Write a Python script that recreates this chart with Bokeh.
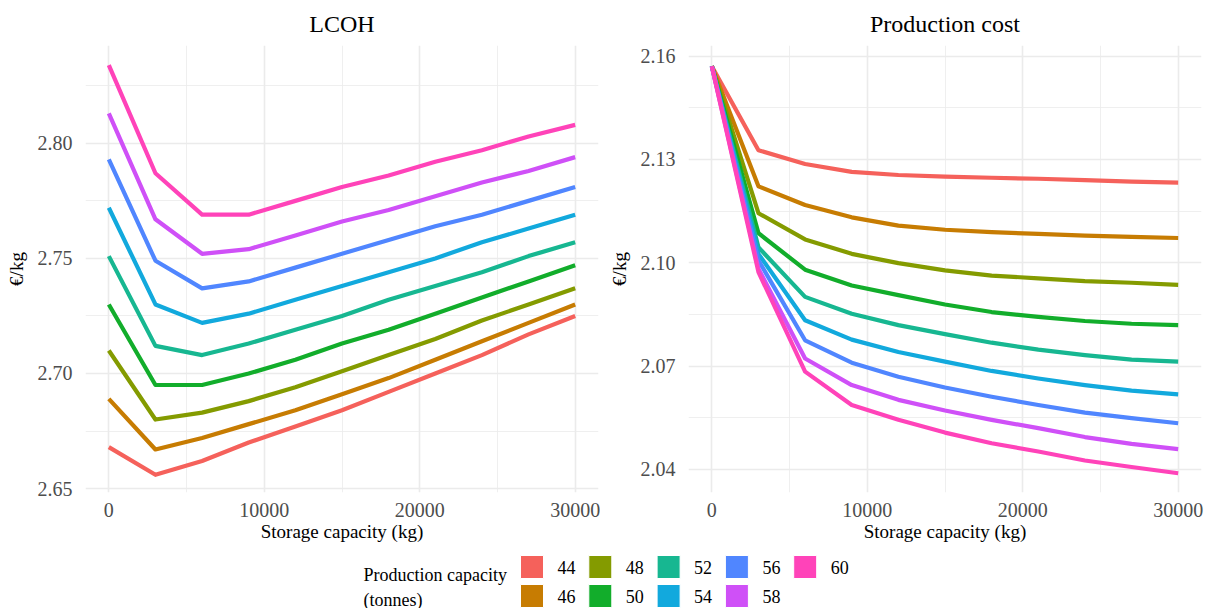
from bokeh.plotting import figure
from bokeh.models import Range1d, FixedTicker, PrintfTickFormatter, ColumnDataSource
from bokeh.layouts import column, row
from bokeh.embed import file_html
from bokeh.resources import INLINE
from bokeh.core.properties import value

# ---------------- data ----------------
storage_kg = [0, 3000, 6000, 9000, 12000, 15000, 18000, 21000, 24000, 27000, 30000]
capacities = ["44", "46", "48", "50", "52", "54", "56", "58", "60"]
colors = ["#F5615B", "#C77C02", "#849B00", "#12AD2B", "#17B791",
          "#12A9DD", "#5086FF", "#CF50F7", "#FF43B9"]

lcoh_44 = [2.668, 2.656, 2.662, 2.670, 2.677, 2.684, 2.692, 2.700, 2.708, 2.717, 2.725]
lcoh_46 = [2.689, 2.667, 2.672, 2.678, 2.684, 2.691, 2.698, 2.706, 2.714, 2.722, 2.730]
lcoh_48 = [2.710, 2.680, 2.683, 2.688, 2.694, 2.701, 2.708, 2.715, 2.723, 2.730, 2.737]
lcoh_50 = [2.730, 2.695, 2.695, 2.700, 2.706, 2.713, 2.719, 2.726, 2.733, 2.740, 2.747]
lcoh_52 = [2.751, 2.712, 2.708, 2.713, 2.719, 2.725, 2.732, 2.738, 2.744, 2.751, 2.757]
lcoh_54 = [2.772, 2.730, 2.722, 2.726, 2.732, 2.738, 2.744, 2.750, 2.757, 2.763, 2.769]
lcoh_56 = [2.793, 2.749, 2.737, 2.740, 2.746, 2.752, 2.758, 2.764, 2.769, 2.775, 2.781]
lcoh_58 = [2.813, 2.767, 2.752, 2.754, 2.760, 2.766, 2.771, 2.777, 2.783, 2.788, 2.794]
lcoh_60 = [2.834, 2.787, 2.769, 2.769, 2.775, 2.781, 2.786, 2.792, 2.797, 2.803, 2.808]

cost_44 = [2.1571, 2.1327, 2.1287, 2.1264, 2.1255, 2.1250, 2.1247, 2.1244, 2.1240, 2.1236, 2.1233]
cost_46 = [2.1571, 2.1222, 2.1168, 2.1132, 2.1108, 2.1096, 2.1089, 2.1084, 2.1079, 2.1075, 2.1072]
cost_48 = [2.1571, 2.1144, 2.1068, 2.1026, 2.0999, 2.0978, 2.0963, 2.0955, 2.0947, 2.0942, 2.0936]
cost_50 = [2.1571, 2.1086, 2.0980, 2.0934, 2.0906, 2.0879, 2.0857, 2.0843, 2.0831, 2.0823, 2.0819]
cost_52 = [2.1571, 2.1045, 2.0901, 2.0852, 2.0819, 2.0793, 2.0768, 2.0748, 2.0732, 2.0719, 2.0713]
cost_54 = [2.1571, 2.1026, 2.0833, 2.0777, 2.0741, 2.0713, 2.0686, 2.0664, 2.0645, 2.0629, 2.0618]
cost_56 = [2.1571, 2.1007, 2.0775, 2.0710, 2.0669, 2.0638, 2.0611, 2.0587, 2.0565, 2.0549, 2.0534]
cost_58 = [2.1571, 2.0983, 2.0722, 2.0645, 2.0602, 2.0571, 2.0544, 2.0520, 2.0494, 2.0474, 2.0459]
cost_60 = [2.1571, 2.0973, 2.0684, 2.0587, 2.0544, 2.0507, 2.0476, 2.0452, 2.0426, 2.0407, 2.0389]

lcoh_series = [lcoh_44, lcoh_46, lcoh_48, lcoh_50, lcoh_52, lcoh_54, lcoh_56, lcoh_58, lcoh_60]
cost_series = [cost_44, cost_46, cost_48, cost_50, cost_52, cost_54, cost_56, cost_58, cost_60]

x_ticks = [0, 10000, 20000, 30000]
x_minor = [5000, 15000, 25000]
lcoh_ticks = [2.65, 2.70, 2.75, 2.80]
lcoh_minor = [2.675, 2.725, 2.775, 2.825]
cost_ticks = [2.04, 2.07, 2.10, 2.13, 2.16]
cost_minor = [2.055, 2.085, 2.115, 2.145]

FONT = "Liberation Serif"
GRID = "#EBEBEB"


def make_panel(title, series, y0, y1, yt, ym, width, bl, br):
    p = figure(width=width, height=544, output_backend="svg", toolbar_location=None,
               x_range=Range1d(-1500, 31500), y_range=Range1d(y0, y1),
               min_border_left=bl, min_border_right=br,
               min_border_top=45, min_border_bottom=51, title=title)
    p.outline_line_color = None
    p.background_fill_color = "white"
    p.border_fill_color = "white"
    p.title.text_font = FONT
    p.title.text_font_size = "24px"
    p.title.text_font_style = "normal"
    p.title.align = "center"
    p.title.text_color = "black"
    p.title.standoff = 17

    p.xaxis.ticker = FixedTicker(ticks=x_ticks, minor_ticks=x_minor)
    p.yaxis.ticker = FixedTicker(ticks=yt, minor_ticks=ym)
    p.xaxis.formatter = PrintfTickFormatter(format="%d")
    p.yaxis.formatter = PrintfTickFormatter(format="%.2f")

    for ax in (p.xaxis[0], p.yaxis[0]):
        ax.axis_line_color = None
        ax.major_tick_line_color = None
        ax.minor_tick_line_color = None
        ax.major_tick_out = 0
        ax.major_tick_in = 0
        ax.major_label_text_font = FONT
        ax.major_label_text_font_size = "20px"
        ax.major_label_text_color = "#4D4D4D"
        ax.axis_label_text_font = FONT
        ax.axis_label_text_font_size = "19px"
        ax.axis_label_text_font_style = "normal"
        ax.axis_label_text_color = "black"
    p.xaxis.axis_label = "Storage capacity (kg)"
    p.yaxis.axis_label = "€/kg"
    p.xaxis.major_label_standoff = 6
    p.xaxis.axis_label_standoff = 1
    p.yaxis.major_label_standoff = 9
    p.yaxis.axis_label_standoff = 8

    for g in (p.xgrid[0], p.ygrid[0]):
        g.grid_line_color = GRID
        g.grid_line_width = 1.6
        g.minor_grid_line_color = GRID
        g.minor_grid_line_width = 0.8

    for vals, c in zip(series, colors):
        src = ColumnDataSource(dict(x=storage_kg, y=vals))
        p.line("x", "y", source=src, line_color=c, line_width=4.2, line_join="round")
    return p


left = make_panel("LCOH", lcoh_series, 2.6483, 2.8425, lcoh_ticks, lcoh_minor, 600, 85, 2)
right = make_panel("Production cost", cost_series, 2.0333, 2.1631, cost_ticks, cost_minor, 615, 88, 14)

# ---------------- legend ----------------
leg = figure(width=1215, height=64, output_backend="svg", toolbar_location=None,
             x_range=Range1d(0, 1215), y_range=Range1d(64, 0), min_border=0)
leg.axis.visible = False
leg.grid.visible = False
leg.outline_line_color = None
leg.background_fill_color = "white"
leg.border_fill_color = "white"

key = 23
col_step = 68.3
x0 = 520
row_top = [11, 40]
kx = [x0 + key / 2 + (i // 2) * col_step for i in range(len(capacities))]
ky = [row_top[i % 2] + key / 2 for i in range(len(capacities))]
lx = [x0 + 37 + (i // 2) * col_step for i in range(len(capacities))]
leg.rect(x=kx, y=ky, width=key, height=key, fill_color=colors, line_color="white", line_width=1)
leg.text(x=lx, y=ky, text=capacities, text_font=value(FONT), text_font_size="18px",
         text_baseline="middle", text_align="left", text_color="black")
leg.text(x=[363, 363], y=[30, 55], text=["Production capacity", "(tonnes)"],
         text_font=value(FONT), text_font_size="18px", text_baseline="middle",
         text_align="left", text_color="black")

layout = column(row(left, right), leg)
open("out.html", "w").write(file_html(layout, INLINE))
